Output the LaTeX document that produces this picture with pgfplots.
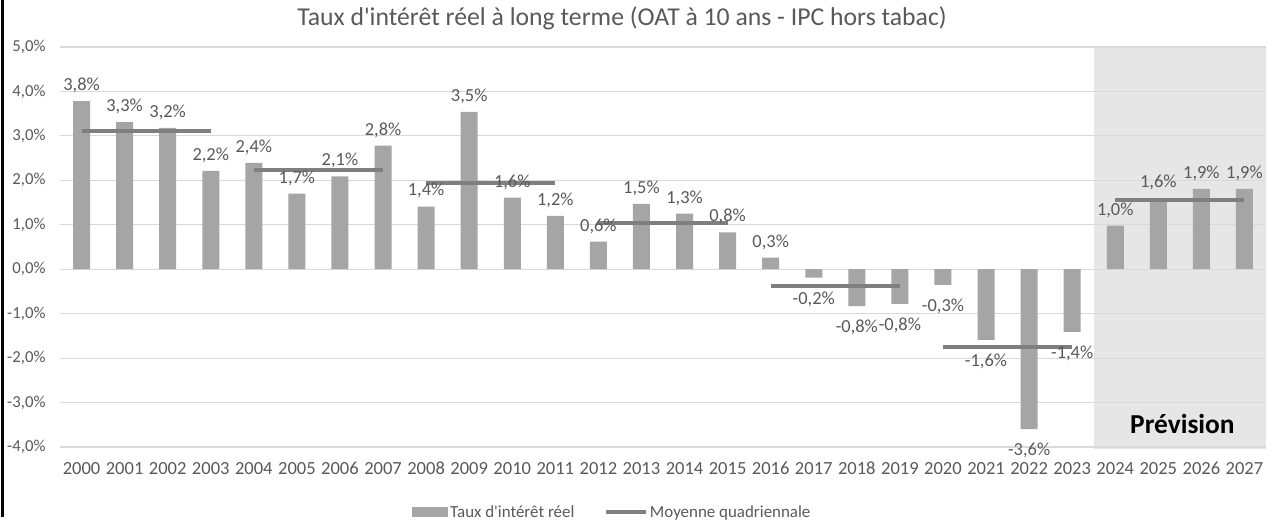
\documentclass[border=0pt]{standalone}
\usepackage{pgfplots}
\pgfplotsset{compat=1.18}
\usepackage{fontspec}
\setmainfont{Carlito}[Ligatures=TeXOff]
\definecolor{barc}{HTML}{A5A5A5}
\definecolor{linec}{HTML}{7F7F7F}
\definecolor{gridc}{HTML}{D9D9D9}
\definecolor{txt}{HTML}{595959}
\definecolor{shadec}{HTML}{E6E6E6}
\pgfplotstableread{
x y l
0 3.78 3,8
1 3.31 3,3
2 3.18 3,2
3 2.21 2,2
4 2.39 2,4
5 1.70 1,7
6 2.09 2,1
7 2.78 2,8
8 1.41 1,4
9 3.54 3,5
10 1.61 1,6
11 1.20 1,2
12 0.62 0,6
13 1.47 1,5
14 1.25 1,3
15 0.83 0,8
16 0.26 0,3
24 0.98 1,0
25 1.60 1,6
26 1.81 1,9
27 1.81 1,9
}\barspos
\pgfplotstableread{
x y l
17 -0.19 -0,2
18 -0.83 -0,8
19 -0.78 -0,8
20 -0.35 -0,3
21 -1.59 -1,6
22 -3.60 -3,6
23 -1.41 -1,4
}\barsneg
\pgfplotstableread{
x y
0 3.10
3 3.10
3.5 nan
4 2.23
7 2.23
7.5 nan
8 1.95
11 1.95
11.5 nan
12 1.05
15 1.05
15.5 nan
16 -0.38
19 -0.38
19.5 nan
20 -1.75
23 -1.75
23.5 nan
24 1.56
27 1.56
}\avgs
\begin{document}
\begin{tikzpicture}
\draw[black, line width=2.5bp] (2.5bp,525bp) -- (2.5bp,8bp);
\node[text=txt, font=\fontsize{25.8}{30}\selectfont] at (622bp,507bp) {Taux d'intérêt réel à long terme (OAT à 10 ans - IPC hors tabac)};
\begin{axis}[
 at={(60bp,78bp)}, anchor=south west,
 scale only axis, width=1206bp, height=400bp,
 xmin=-0.5, xmax=27.5, ymin=-4, ymax=5,
 set layers,
 axis line style={draw=none},
 major tick length=0pt,
 ymajorgrids, grid style={gridc, line width=1.2bp},
 ytick={-4,-3,-2,-1,0,1,2,3,4,5},
 yticklabels={{-4,0\%},{-3,0\%},{-2,0\%},{-1,0\%},{0,0\%},{1,0\%},{2,0\%},{3,0\%},{4,0\%},{5,0\%}},
 xtick={0,...,27},
 xticklabel={\pgfmathparse{int(2000+\tick)}\pgfmathresult},
 tick label style={text=txt},
 yticklabel style={font=\fontsize{16.8}{19}\selectfont, xshift=-11bp},
 xticklabel style={font=\fontsize{18.6}{21}\selectfont, text height=12bp, text depth=0bp, yshift=-12bp},
 legend style={at={(0.458,-0.1625)}, anchor=center, legend columns=2, draw=none, fill=none,
   font=\fontsize{17}{20}\selectfont, text=txt,
   /tikz/every even column/.append style={column sep=28bp}},
 legend cell align=left,
]
\begin{pgfonlayer}{axis background}
\fill[shadec] (axis cs:23.5,-4.05) rectangle (axis cs:27.5,5);
\end{pgfonlayer}
\addplot[ybar, bar width=17bp, fill=barc, draw=none,
  point meta=explicit symbolic,
  nodes near coords={\pgfplotspointmeta\%},
  nodes near coords align={above},
  every node near coord/.append style={text=txt, font=\fontsize{18.5}{21}\selectfont, inner ysep=8bp},
  legend image code/.code={\fill[barc] (0bp,-5bp) rectangle (36bp,5bp);}]
  table[x=x, y=y, meta=l] {\barspos};
\addlegendentry{Taux d'intérêt réel}
\addplot[ybar, bar width=17bp, fill=barc, draw=none, forget plot,
  point meta=explicit symbolic,
  nodes near coords={\pgfplotspointmeta\%},
  nodes near coords align={below},
  every node near coord/.append style={text=txt, font=\fontsize{18.5}{21}\selectfont, inner ysep=14bp}]
  table[x=x, y=y, meta=l] {\barsneg};
\addplot[linec, line width=4bp, unbounded coords=jump, mark=none,
  legend image code/.code={\draw[linec, line width=3.5bp] (0bp,0bp) -- (40bp,0bp);}]
  table[x=x, y=y] {\avgs};
\addlegendentry{Moyenne quadriennale}
\node[font=\bfseries\fontsize{27.5}{32}\selectfont, text=black] at (axis cs:25.56,-3.49) {Prévision};
\end{axis}
\pgfresetboundingbox
\path[use as bounding box] (0,0) rectangle (1269bp,525bp);
\end{tikzpicture}
\end{document}
